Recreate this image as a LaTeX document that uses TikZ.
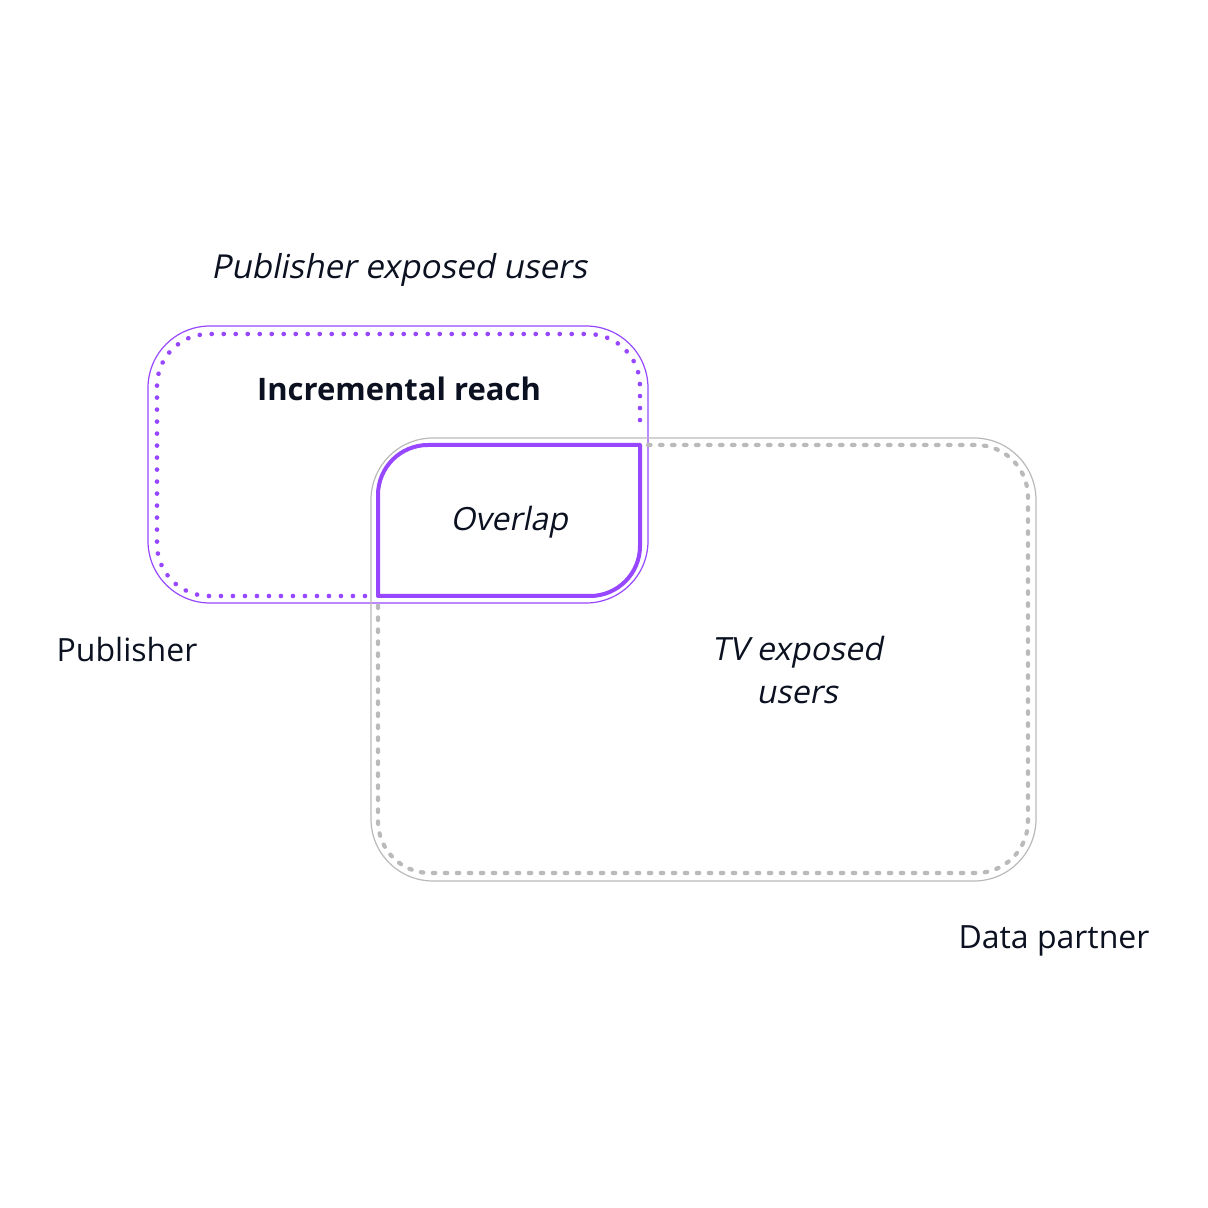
\documentclass[tikz,border=0pt]{standalone}
\usepackage{fontspec}
\setmainfont{Open Sans}
\newfontfamily\vnslant[FakeSlant=0.2]{Open Sans}
\usetikzlibrary{positioning}
\definecolor{vnPurple}{RGB}{151,71,255}
\definecolor{vnGray}{RGB}{186,186,186}
\definecolor{vnInk}{RGB}{11,17,32}

\begin{document}
\begin{tikzpicture}[
  x=1pt, y=1pt,
  outline/.style={line width=1.2pt, rounded corners=62pt},
  purpledots/.style={draw=vnPurple, line width=4.6pt, line cap=round, dash pattern=on 0.1pt off 11.9pt, rounded corners=52pt},
  graydots/.style={draw=vnGray, line width=4.2pt, line cap=round, dash pattern=on 2.5pt off 9.5pt, rounded corners=52pt},
  txt/.style={text=vnInk, font=\fontsize{32}{43}\selectfont, align=center, inner sep=0pt},
  ittxt/.style={txt, font=\fontsize{32}{43}\selectfont\vnslant},
  bftxt/.style={txt, font=\fontsize{31}{43}\selectfont\bfseries}
]
\useasboundingbox[fill=white] (0,0) rectangle (1208,1208);

% thin outer frames
\draw[outline, draw=vnPurple] (148,605) rectangle (648,882);
\draw[outline, draw=vnGray] (371,327) rectangle (1036,770);

% dotted parts outside the overlap
\draw[purpledots] (365,612) -- (157,612) -- (157,874) -- (640,874) -- (640,776);
\draw[graydots] (648,763) -- (1028,763) -- (1028,335) -- (378,335) -- (378,603);

% overlap
\draw[draw=vnPurple, line width=4pt, line join=round]
  (378,612) -- (378,713) arc[start angle=180, end angle=90, radius=50]
  -- (640,763) -- (640,662) arc[start angle=0, end angle=-90, radius=50] -- cycle;

% texts
\node[ittxt, font=\fontsize{33}{43}\selectfont\vnslant] (pubexp) at (399,938) {Publisher exposed users};
\node[bftxt] (incr) at (399,819) {Incremental reach};
\node[ittxt] (overlap) at (509,686) {Overlap};
\node[txt] (publisher) at (127,558) {Publisher};
\node[ittxt] (tvexp) at (797,538) {TV exposed\\users};
\node[txt] (datapartner) at (1054,267) {Data partner};
\end{tikzpicture}
\end{document}
